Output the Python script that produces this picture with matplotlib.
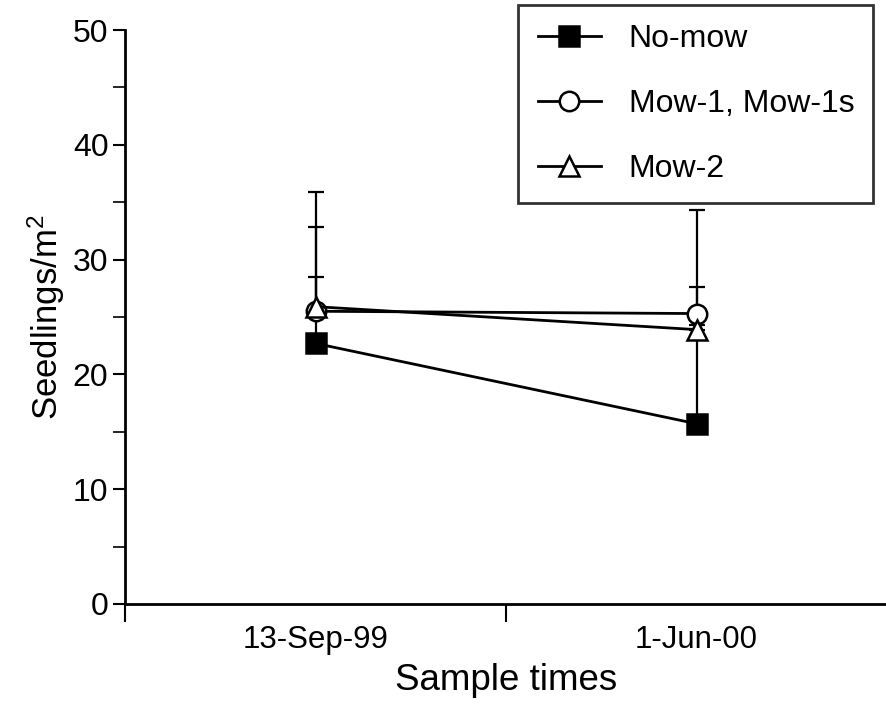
import matplotlib
matplotlib.use("Agg")
import matplotlib.pyplot as plt
from matplotlib.ticker import MultipleLocator, FixedLocator

plt.rcParams['font.family'] = ['Liberation Sans', 'DejaVu Sans']

# data
sample_times = ["13-Sep-99", "1-Jun-00"]
no_mow = [22.7, 15.7]
no_mow_err = [5.8, 18.6]
mow1 = [25.5, 25.3]
mow1_err = [7.3, 2.3]
mow2 = [25.9, 23.9]
mow2_err = [10.0, 0.4]

x = [1, 2]

fig = plt.figure(figsize=(8.87, 7.06), dpi=100)
ax = fig.add_axes([0.141, 0.1445, 0.859, 0.813])

series = [
    ("No-mow", no_mow, no_mow_err, dict(marker='s', mfc='black', ms=15)),
    ("Mow-1, Mow-1s", mow1, mow1_err, dict(marker='o', mfc='white', ms=14)),
    ("Mow-2", mow2, mow2_err, dict(marker='^', mfc='white', ms=14)),
]
handles = []
for label, vals, err, style in series:
    ax.errorbar(x, vals, yerr=[[0] * len(err), err], fmt='none', ecolor='black',
                elinewidth=1.6, capsize=5.5, capthick=1.6, zorder=2)
    h, = ax.plot(x, vals, color='black', lw=2.0, mec='black', mew=1.8,
                 label=label, zorder=3, **style)
    handles.append(h)

ax.set_xlim(0.5, 2.5)
ax.set_ylim(0, 50)
ax.xaxis.set_major_locator(FixedLocator([0.5, 1.5]))
ax.xaxis.set_minor_locator(FixedLocator(x))
ax.set_xticklabels(["", ""])
ax.set_xticklabels(sample_times, minor=True)
ax.tick_params(axis='x', which='major', length=13, width=1.5, direction='out')
ax.tick_params(axis='x', which='minor', length=0, labelsize=22.5, pad=15)

ax.yaxis.set_major_locator(MultipleLocator(10))
ax.yaxis.set_minor_locator(MultipleLocator(5))
ax.tick_params(axis='y', which='major', length=9, width=1.5, labelsize=23, pad=3)
ax.tick_params(axis='y', which='minor', length=9, width=1.2)

for side in ['top', 'right']:
    ax.spines[side].set_visible(False)
for side in ['left', 'bottom']:
    ax.spines[side].set_linewidth(2.0)

ax.set_xlabel("Sample times", fontsize=26.5, labelpad=6)
ax.set_ylabel("Seedlings/m$\\mathregular{^2}$", fontsize=25, labelpad=4)

leg = fig.legend(handles=handles, loc='upper right', bbox_to_anchor=(0.99, 1.0),
                 fontsize=23, frameon=True, fancybox=False, edgecolor='black',
                 handlelength=2.0, handletextpad=0.85, borderpad=0.6,
                 labelspacing=1.1, borderaxespad=0.15)
leg.get_frame().set_linewidth(2.0)

fig.savefig("out.png", dpi=100)
